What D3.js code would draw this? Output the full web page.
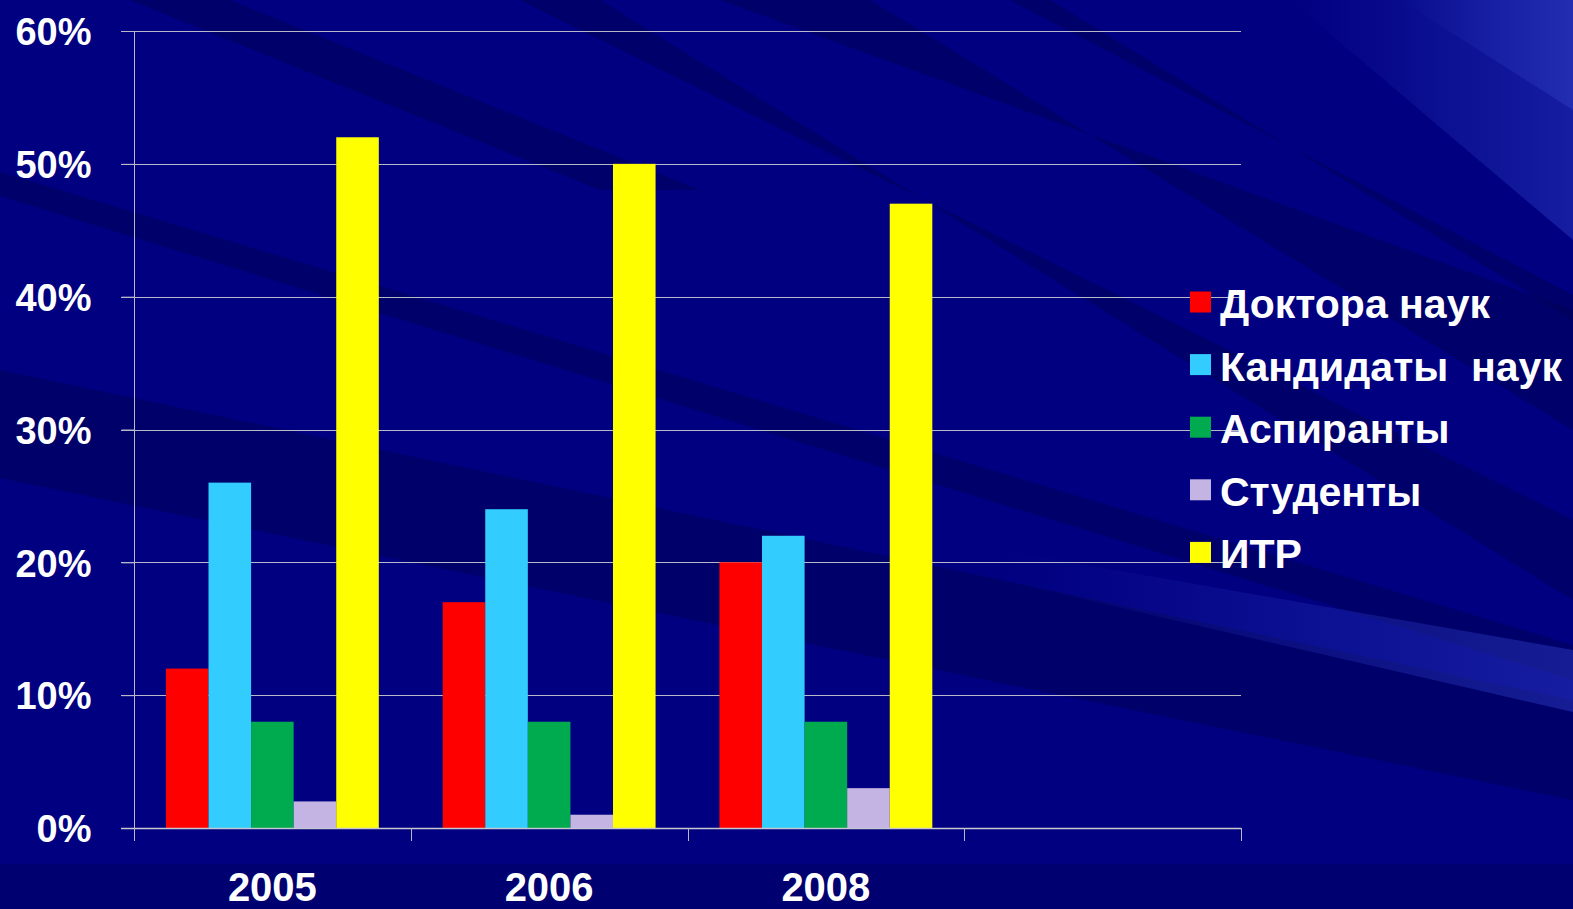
<!DOCTYPE html>
<html>
<head>
<meta charset="utf-8">
<script src="https://cdn.jsdelivr.net/npm/d3@7"></script>
<style>
  html, body { margin: 0; padding: 0; background: #000080; overflow: hidden; }
  svg text { font-family: "Liberation Sans", Arial, sans-serif; font-weight: bold; fill: #fff; }
</style>
</head>
<body>
<div id="chart"></div>
<script>
const years = ['2005', '2006', '2008', '']
const seriesNames = ['Доктора наук', 'Кандидаты  наук', 'Аспиранты', 'Студенты', 'ИТР']
const seriesColors = ['#ff0000', '#33ccff', '#00aa4e', '#c4b4e4', '#ffff00']
const doctors = [12, 17, 20]
const candidates = [26, 24, 22]
const postgrads = [8, 8, 8]
const students = [2, 1, 3]
const engineers = [52, 50, 47]
const yTicks = [0, 10, 20, 30, 40, 50, 60]

const w = 1573
const h = 909

const svg = d3.select('#chart')
  .append('svg')
  .attr('width', w)
  .attr('height', h)

// background: navy slide with diagonal streaks
svg.append('rect').attr('width', w).attr('height', h).attr('fill', '#000080')

const defs = svg.append('defs')
const fade = defs.append('linearGradient').attr('id', 'fade')
  .attr('x1', '0').attr('x2', '1').attr('y1', '0').attr('y2', '0')
fade.append('stop').attr('offset', '0').attr('stop-color', '#3040c8').attr('stop-opacity', 0)
fade.append('stop').attr('offset', '1').attr('stop-color', '#3040c8').attr('stop-opacity', 0.45)

const darkStreaks = [
  [[0, 172], [0, 196], [1573, 680], [1573, 645]],
  [[0, 370], [0, 478], [1573, 800], [1573, 700]],
  [[520, 0], [600, 0], [1573, 600], [1573, 520]],
  [[720, 0], [870, 0], [1573, 430], [1573, 310]],
  [[1010, 0], [1050, 0], [1573, 320], [1573, 295]],
  [[130, 0], [230, 0], [700, 190], [600, 190]]
]
const lightStreaks = [
  [[1000, 550], [1573, 650], [1573, 712], [1000, 580]],
  [[1290, 0], [1573, 0], [1573, 240]],
  [[1400, 0], [1573, 0], [1573, 110]]
]

svg.append('g').selectAll('polygon')
  .data(darkStreaks)
  .enter()
  .append('polygon')
  .attr('points', d => d.map(p => p.join(',')).join(' '))
  .attr('fill', '#000050')
  .attr('opacity', 0.45)

svg.append('g').selectAll('polygon')
  .data(lightStreaks)
  .enter()
  .append('polygon')
  .attr('points', d => d.map(p => p.join(',')).join(' '))
  .attr('fill', 'url(#fade)')

svg.append('rect')
  .attr('x', 0).attr('y', 864).attr('width', w).attr('height', h - 864)
  .attr('fill', '#000070')

// scales
const xScale = d3.scaleBand()
  .domain(years)
  .range([134, 1241])
  .paddingInner(0)
  .paddingOuter(0)

const seriesScale = d3.scaleBand()
  .domain(seriesNames)
  .range([0, xScale.bandwidth()])
  .paddingInner(0)
  .paddingOuter(0.75)

const yScale = d3.scaleLinear()
  .domain([0, 60])
  .range([828, 31])

// gridlines
svg.append('g')
  .selectAll('line')
  .data(yTicks.slice(1))
  .enter()
  .append('line')
  .attr('x1', 121)
  .attr('x2', 1241)
  .attr('y1', d => Math.round(yScale(d)) + 0.5)
  .attr('y2', d => Math.round(yScale(d)) + 0.5)
  .attr('stroke', '#b8b8c8')
  .attr('stroke-width', 1)

// bars
const table = years.slice(0, 3).map((yr, i) => ({
  year: yr,
  values: [doctors[i], candidates[i], postgrads[i], students[i], engineers[i]]
}))

svg.append('g')
  .selectAll('g')
  .data(table)
  .enter()
  .append('g')
  .attr('transform', d => 'translate(' + xScale(d.year) + ',0)')
  .selectAll('rect')
  .data(d => d.values.map((v, j) => ({ name: seriesNames[j], value: v, color: seriesColors[j] })))
  .enter()
  .append('rect')
  .attr('x', d => seriesScale(d.name))
  .attr('y', d => yScale(d.value))
  .attr('width', seriesScale.bandwidth())
  .attr('height', d => yScale(0) - yScale(d.value))
  .attr('fill', d => d.color)

// y axis
const yAxis = d3.axisLeft(yScale)
  .tickValues(yTicks)
  .tickFormat(d => d + '%')
  .tickSize(13)
  .tickPadding(30)

const yG = svg.append('g')
  .attr('transform', 'translate(134.5,0)')
  .call(yAxis)
yG.select('.domain').remove()
yG.selectAll('.tick line').attr('stroke', '#b8b8c8')
yG.selectAll('.tick text')
  .attr('font-size', 38)
  .attr('font-family', '"Liberation Sans", Arial, sans-serif')
  .attr('font-weight', 'bold')
  .attr('fill', '#fff')
  .attr('dy', '0.36em')

yG.append('line')
  .attr('x1', 0).attr('x2', 0)
  .attr('y1', 31).attr('y2', 841)
  .attr('stroke', '#b8b8c8')

// x axis: line at zero, ticks between categories
const xG = svg.append('g')
xG.append('line')
  .attr('x1', 121).attr('x2', 1241)
  .attr('y1', 828.5).attr('y2', 828.5)
  .attr('stroke', '#c8c8d0')
  .attr('stroke-width', 1.5)

const boundaries = years.map(y => xScale(y)).concat([xScale.range()[1]])
xG.selectAll('.tick')
  .data(boundaries)
  .enter()
  .append('line')
  .attr('x1', d => Math.round(d) + 0.5)
  .attr('x2', d => Math.round(d) + 0.5)
  .attr('y1', 828)
  .attr('y2', 841)
  .attr('stroke', '#b8b8c8')

xG.selectAll('text')
  .data(years.filter(y => y))
  .enter()
  .append('text')
  .attr('x', d => xScale(d) + xScale.bandwidth() / 2)
  .attr('y', 901)
  .attr('text-anchor', 'middle')
  .attr('font-size', 40)
  .text(d => d)

// legend
const legend = svg.append('g')
  .selectAll('g')
  .data(seriesNames)
  .enter()
  .append('g')
  .attr('transform', (d, i) => 'translate(1190,' + (302 + i * 62.6) + ')')

legend.append('rect')
  .attr('x', 0)
  .attr('y', -10.5)
  .attr('width', 21)
  .attr('height', 21)
  .attr('fill', (d, i) => seriesColors[i])

legend.append('text')
  .attr('x', 30)
  .attr('y', 16)
  .attr('font-size', 41)
  .attr('xml:space', 'preserve')
  .text(d => d)
</script>
</body>
</html>
